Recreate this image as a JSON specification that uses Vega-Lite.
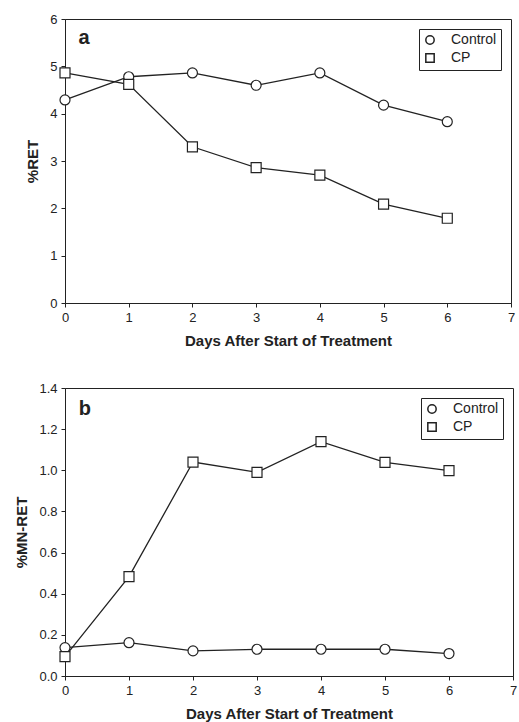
{
  "$schema": "https://vega.github.io/schema/vega-lite/v6.json",
  "background": "white",
  "padding": {"left": 14, "top": 12, "right": 0, "bottom": 0},
  "spacing": 32,
  "resolve": {"scale": {"shape": "independent", "x": "independent", "y": "independent"}, "legend": {"shape": "independent"}},
  "datasets": {
    "ret": [
      {"series": "Control", "day": 0, "value": 4.29},
      {"series": "Control", "day": 1, "value": 4.78},
      {"series": "Control", "day": 2, "value": 4.86},
      {"series": "Control", "day": 3, "value": 4.6},
      {"series": "Control", "day": 4, "value": 4.86},
      {"series": "Control", "day": 5, "value": 4.18},
      {"series": "Control", "day": 6, "value": 3.83},
      {"series": "CP", "day": 0, "value": 4.86},
      {"series": "CP", "day": 1, "value": 4.62},
      {"series": "CP", "day": 2, "value": 3.3},
      {"series": "CP", "day": 3, "value": 2.86},
      {"series": "CP", "day": 4, "value": 2.7},
      {"series": "CP", "day": 5, "value": 2.09},
      {"series": "CP", "day": 6, "value": 1.79}
    ],
    "mn": [
      {"series": "Control", "day": 0, "value": 0.138},
      {"series": "Control", "day": 1, "value": 0.162},
      {"series": "Control", "day": 2, "value": 0.122},
      {"series": "Control", "day": 3, "value": 0.13},
      {"series": "Control", "day": 4, "value": 0.13},
      {"series": "Control", "day": 5, "value": 0.13},
      {"series": "Control", "day": 6, "value": 0.109},
      {"series": "CP", "day": 0, "value": 0.094},
      {"series": "CP", "day": 1, "value": 0.483},
      {"series": "CP", "day": 2, "value": 1.04},
      {"series": "CP", "day": 3, "value": 0.99},
      {"series": "CP", "day": 4, "value": 1.139},
      {"series": "CP", "day": 5, "value": 1.038},
      {"series": "CP", "day": 6, "value": 0.998}
    ],
    "labA": [{"label": "a", "day": 0.3, "value": 5.6}],
    "labB": [{"label": "b", "day": 0.31, "value": 1.3}]
  },
  "config": {
    "font": "Liberation Sans",
    "view": {"stroke": "#222", "strokeWidth": 1},
    "axis": {
      "domainColor": "#222",
      "tickColor": "#222",
      "labelColor": "#222",
      "titleColor": "#222",
      "grid": false,
      "labelFont": "Liberation Sans",
      "titleFont": "Liberation Sans",
      "labelFontSize": 13,
      "titleFontSize": 15,
      "titleFontWeight": "bold",
      "tickSize": 4,
      "labelPadding": 4,
      "titlePadding": 9,
      "labelFlush": false
    },
    "legend": {
      "orient": "top-right",
      "offset": 10,
      "title": null,
      "strokeColor": "#222",
      "fillColor": "white",
      "padding": 4,
      "labelFont": "Liberation Sans",
      "labelFontSize": 14,
      "labelColor": "#222",
      "labelOffset": 14,
      "symbolSize": 70,
      "rowPadding": 2
    }
  },
  "vconcat": [
    {
      "width": 446,
      "height": 284,
      "data": {"name": "ret"},
      "encoding": {
        "x": {"field": "day", "type": "quantitative", "scale": {"domain": [0, 7], "nice": false},
          "axis": {"title": "Days After Start of Treatment", "values": [0, 1, 2, 3, 4, 5, 6, 7], "format": "d"}},
        "y": {"field": "value", "type": "quantitative", "scale": {"domain": [0, 6], "nice": false},
          "axis": {"title": "%RET", "values": [0, 1, 2, 3, 4, 5, 6], "format": "d"}}
      },
      "layer": [
        {
          "mark": {"type": "line", "color": "#222", "strokeWidth": 1.3},
          "encoding": {"detail": {"field": "series", "type": "nominal"}}
        },
        {
          "mark": {"type": "point", "filled": true, "fill": "white", "stroke": "#222", "strokeWidth": 1.2, "opacity": 1, "size": 100},
          "encoding": {
            "shape": {"field": "series", "type": "nominal",
              "scale": {"domain": ["Control", "CP"], "range": ["circle", "square"]}
            }
          }
        },
        {
          "data": {"name": "labA"},
          "mark": {"type": "text", "fontSize": 20, "fontWeight": "bold", "color": "#222", "baseline": "middle", "align": "center"},
          "encoding": {"text": {"field": "label"}}
        }
      ]
    },
    {
      "width": 448,
      "height": 288,
      "data": {"name": "mn"},
      "encoding": {
        "x": {"field": "day", "type": "quantitative", "scale": {"domain": [0, 7], "nice": false},
          "axis": {"title": "Days After Start of Treatment", "values": [0, 1, 2, 3, 4, 5, 6, 7], "format": "d"}},
        "y": {"field": "value", "type": "quantitative", "scale": {"domain": [0, 1.4], "nice": false},
          "axis": {"title": "%MN-RET", "values": [0, 0.2, 0.4, 0.6, 0.8, 1, 1.2, 1.4], "format": ".1f"}}
      },
      "layer": [
        {
          "mark": {"type": "line", "color": "#222", "strokeWidth": 1.3},
          "encoding": {"detail": {"field": "series", "type": "nominal"}}
        },
        {
          "mark": {"type": "point", "filled": true, "fill": "white", "stroke": "#222", "strokeWidth": 1.2, "opacity": 1, "size": 100},
          "encoding": {
            "shape": {"field": "series", "type": "nominal",
              "scale": {"domain": ["Control", "CP"], "range": ["circle", "square"]}
            }
          }
        },
        {
          "data": {"name": "labB"},
          "mark": {"type": "text", "fontSize": 20, "fontWeight": "bold", "color": "#222", "baseline": "middle", "align": "center"},
          "encoding": {"text": {"field": "label"}}
        }
      ]
    }
  ]
}
